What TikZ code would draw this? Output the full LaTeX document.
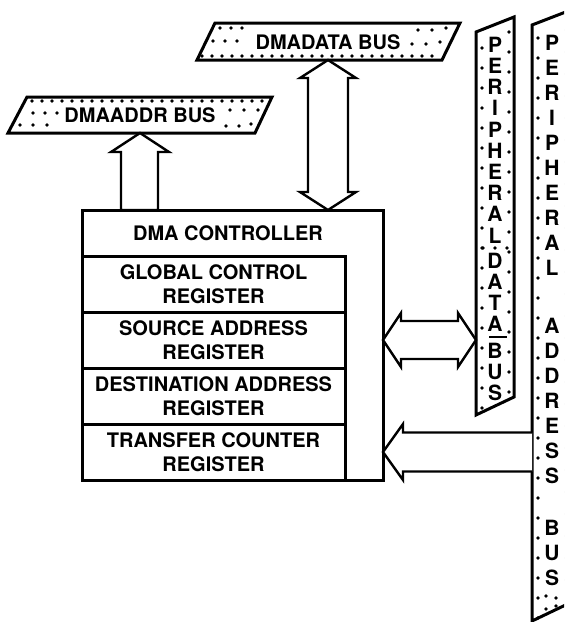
\documentclass[tikz,border=0pt]{standalone}
\usepackage{fontspec}
\setmainfont{TeX Gyre Heros}
\usetikzlibrary{positioning, calc}
\tikzstyle{ctrlbox} = [rectangle, draw = black, line width=1.5pt, minimum width = 150.5pt, minimum height=135pt, inner sep=0pt, outer sep=0pt]
\tikzstyle{reg} = [rectangle, draw = black, line width=1.5pt, minimum width = 131.5pt, minimum height=28pt, inner sep=0pt, outer sep=0pt, align=center, font=\fontsize{10}{12}\selectfont\bfseries]
\tikzstyle{title} = [inner sep=0pt, font=\fontsize{10}{12}\selectfont\bfseries]
\tikzstyle{hbus} = [inner sep=0pt, outer sep=0pt, minimum height=18pt, font=\fontsize{10}{12}\selectfont\bfseries]
\tikzstyle{vbus} = [inner sep=0pt, outer sep=0pt, anchor=north, align=center, minimum width=19pt]
\tikzstyle{busline} = [draw = black, line width=1.5pt, line join=miter]
\tikzstyle{blockarrow} = [draw = black, fill = white, line width=1.2pt, line join=miter]

\begin{document}
\begin{tikzpicture}[x=0.5pt, y=-0.5pt]
	\clip (0,0) rectangle (564,622);
	% bus outlines
	\draw[busline] (8,133) -- (27,97) -- (272,97) -- (255,133) -- cycle;
	\draw[busline] (197,60) -- (215,23) -- (460,23) -- (442,60) -- cycle;
	\draw[busline] (476,32) -- (514,17) -- (514,397) -- (476,415) -- cycle;
	\draw[busline] (532,25) -- (576,8) -- (576,600) -- (532,621) -- cycle;
	% stipple
	\foreach \x in {32,42,...,266} \fill (\x,101) circle (0.9pt);
	\foreach \x/\y in {33/113,45/113,57/113,20/125,33/125,47/125,230/110,244/110,258/110,226/126,239/126,251/124}
		\fill (\x,\y) circle (0.9pt);
	\foreach \x in {202,212,...,440} \fill (\x,56) circle (0.9pt);
	\foreach \x/\y in {220/28,231/28,242/28,213/41,225/41,237/41,418/30,432/30,446/28,412/44,426/44,440/42}
		\fill (\x,\y) circle (0.9pt);
	\foreach \y in {48,68,...,408} \fill (482,\y) circle (0.9pt);
	\foreach \y in {32,52,...,392} \fill (509,\y) circle (0.9pt);
	\foreach \x in {483,495,507} \fill (\x,248) circle (0.9pt);
	\foreach \y in {38,58,...,618} \fill (538,\y) circle (0.9pt);
	\foreach \y in {30,52,...,600} \fill (566,\y) circle (0.9pt);
	\foreach \x/\y in {546/596,556/598,546/609,556/606} \fill (\x,\y) circle (0.9pt);
	% bus labels
	\node (dmaaddr) [hbus] at (140,115) {DMAADDR BUS};
	\node (dmadata) [hbus] at (328,42) {DMADATA BUS};
	\node (pdata) [vbus, font=\fontsize{10.5}{10.6}\selectfont\bfseries] at (495,37) {P\\E\\R\\I\\P\\H\\E\\R\\A\\L\\[2pt]D\\A\\T\\A\\[2.5pt]B\\U\\S};
	\node (paddr) [vbus, minimum width=20pt, font=\fontsize{10.5}{12.5}\selectfont\bfseries] at (552,35) {P\\E\\R\\I\\P\\H\\E\\R\\A\\L\\[16.5pt]A\\D\\D\\R\\E\\S\\S\\[13.5pt]B\\U\\S};
	\draw[line width=0.8pt] (489,337) -- (507,337);
	% controller
	\node (ctrl) [ctrlbox] at (232.5,345) {};
	\node (ttl) [title] at (228,233) {DMA CONTROLLER};
	\node (gcr) [reg] at (213.5,284) {GLOBAL CONTROL\\REGISTER};
	\node (sar) [reg, below=0pt of gcr] {SOURCE ADDRESS\\REGISTER};
	\node (dar) [reg, below=0pt of sar] {DESTINATION ADDRESS\\REGISTER};
	\node (tcr) [reg, below=0pt of dar] {TRANSFER COUNTER\\REGISTER};
	% block arrows
	\draw[blockarrow] (dmaaddr.south) -- ++(29,19) coordinate (h) -- ++(-11,0) -- ($(h |- ctrl.north)+(-11,0)$) -- ($(h |- ctrl.north)+(-48,0)$) -- ($(h)+(-48,0)$) -- ++(-10,0) -- cycle;
	\draw[blockarrow] (dmadata.south) -- ++(28,18) -- ++(-8,0) -- ($(dmadata.south |- ctrl.north)+(20,-18)$) -- ++(8,0) -- (dmadata.south |- ctrl.north) -- ++(-28,-18) -- ++(8,0) -- ($(dmadata.south)+(-20,18)$) -- ++(-8,0) -- cycle;
	\coordinate (dtip) at ($(ctrl.east)+(0,-5)$);
	\draw[blockarrow] (dtip) -- ++(18,-27) -- ++(0,8) -- ($(pdata.west |- dtip)+(-18,-19)$) -- ++(0,-8) -- (pdata.west |- dtip) -- ++(-18,27) -- ++(0,-8) -- ($(dtip)+(18,19)$) -- ++(0,8) -- cycle;
	\draw[blockarrow] ($(paddr.west |- tcr.east)+(0,-19.5)$) -- ($(ctrl.east |- tcr.east)+(20,-19.5)$) -- ++(0,-8.5) -- (ctrl.east |- tcr.east) -- ++(20,28) -- ++(0,-8.5) -- ($(paddr.west |- tcr.east)+(0,19.5)$);
\end{tikzpicture}
\end{document}
